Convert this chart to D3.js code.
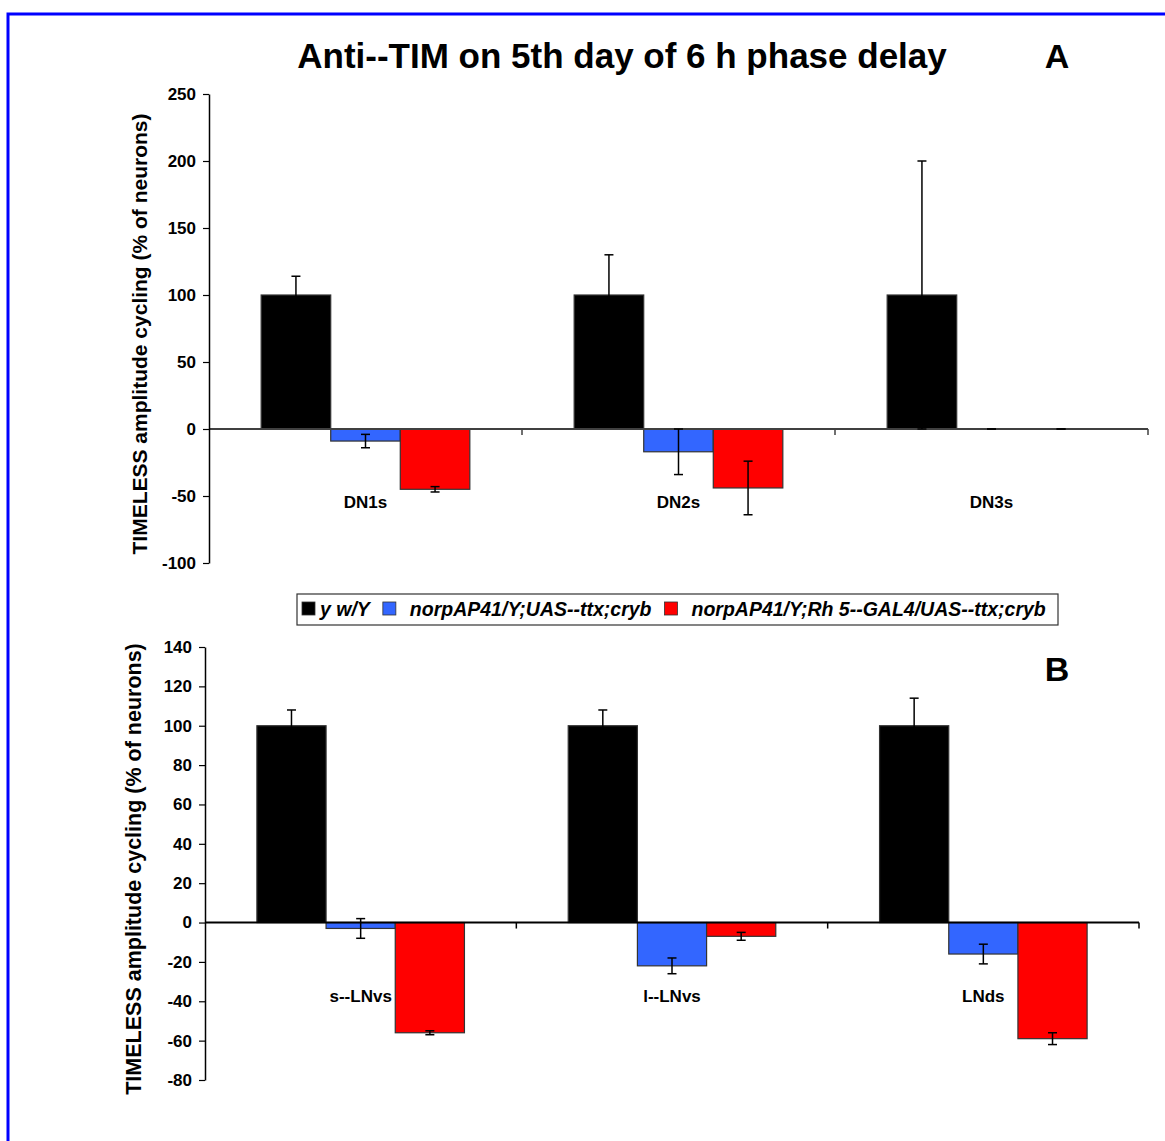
<!DOCTYPE html>
<html>
<head>
<meta charset="utf-8">
<script src="https://cdn.jsdelivr.net/npm/d3@7"></script>
<style>
  body { margin: 0; background: #fff; }
  svg { display: block; font-family: "Liberation Sans", Arial, sans-serif; }
</style>
</head>
<body>
<script>
(function() {

// ---- data ----
var series = ["y w/Y", "norpAP41/Y;UAS--ttx;cryb", "norpAP41/Y;Rh 5--GAL4/UAS--ttx;cryb"];
var seriesColors = ["#000000", "#3366ff", "#ff0000"];

var catsA = ["DN1s", "DN2s", "DN3s"];
var valuesA = [[100, -9, -45], [100, -17, -44], [100, 0, 0]];
var errorsA = [[14, 5, 2], [30, 17, 20], [100, 0, 0]];
var ticksA = [250, 200, 150, 100, 50, 0, -50, -100];

var catsB = ["s--LNvs", "l--LNvs", "LNds"];
var valuesB = [[100, -3, -56], [100, -22, -7], [100, -16, -59]];
var errorsB = [[8, 5, 1], [8, 4, 2], [14, 5, 3]];
var ticksB = [140, 120, 100, 80, 60, 40, 20, 0, -20, -40, -60, -80];

var yLabel = "TIMELESS amplitude cycling (% of neurons)";

var width = 1165, height = 1141;

var svg = d3.select("body").
  append("svg").
  attr("width", width).
  attr("height", height);

// blue frame, runs off the right and bottom edges
svg.append("rect").
  attr("x", 8).attr("y", 14).
  attr("width", width + 20).attr("height", height + 20).
  attr("fill", "none").
  attr("stroke", "#0000ff").
  attr("stroke-width", 3);

svg.append("text").
  attr("x", 622).attr("y", 68).
  attr("text-anchor", "middle").
  style("font-size", "35px").style("font-weight", "bold").
  text("Anti--TIM on 5th day of 6 h phase delay");

var drawPanel = function(p) {
  var y = d3.scaleLinear().domain(p.domain).range(p.yRange);
  var x0 = d3.scaleBand().domain(p.cats).range(p.xRange).padding(0);
  var x1 = d3.scaleBand().domain(d3.range(series.length)).
    range([0, x0.bandwidth()]).paddingInner(0).paddingOuter(0.75);

  var g = svg.append("g");

  var rows = [];
  p.cats.forEach(function(c, i) {
    p.values[i].forEach(function(v, j) {
      rows.push({ cat: c, s: j, v: v, e: p.errors[i][j] });
    });
  });

  g.selectAll("rect.bar").
    data(rows).
    enter().append("rect").
    attr("class", "bar").
    attr("x", function(d) { return x0(d.cat) + x1(d.s); }).
    attr("y", function(d) { return y(Math.max(0, d.v)); }).
    attr("width", x1.bandwidth()).
    attr("height", function(d) { return Math.abs(y(d.v) - y(0)); }).
    attr("fill", function(d) { return seriesColors[d.s]; }).
    attr("stroke", "#333").
    attr("stroke-width", 1.2);

  // zero line with category separators
  var z = y(0);
  g.append("line").
    attr("x1", p.xRange[0]).attr("x2", p.xRange[1]).
    attr("y1", z).attr("y2", z).
    attr("stroke", p.zeroColor).attr("stroke-width", 2);
  g.selectAll("line.sep").
    data(p.cats).
    enter().append("line").
    attr("class", "sep").
    attr("x1", function(c) { return x0(c) + x0.bandwidth(); }).
    attr("x2", function(c) { return x0(c) + x0.bandwidth(); }).
    attr("y1", z).attr("y2", z + 6).
    attr("stroke", p.zeroColor).attr("stroke-width", 1.5);

  // error bars
  var eb = g.selectAll("g.err").
    data(rows).
    enter().append("g").
    attr("class", "err").
    attr("transform", function(d) {
      return "translate(" + (x0(d.cat) + x1(d.s) + x1.bandwidth() / 2) + ",0)";
    });
  eb.append("line").
    attr("y1", function(d) { return y(d.v + d.e); }).
    attr("y2", function(d) { return y(d.v - d.e); }).
    attr("stroke", "#000").attr("stroke-width", 1.5);
  [1, -1].forEach(function(sgn) {
    eb.append("line").
      attr("x1", -4.5).attr("x2", 4.5).
      attr("y1", function(d) { return y(d.v + sgn * d.e); }).
      attr("y2", function(d) { return y(d.v + sgn * d.e); }).
      attr("stroke", "#000").attr("stroke-width", 1.5);
  });

  // y axis (plain hyphen for negatives, like the original)
  var ax = g.append("g").
    attr("transform", "translate(" + p.xRange[0] + ",0)").
    call(d3.axisLeft(y).tickValues(p.ticks).tickSize(6).tickSizeOuter(0).tickPadding(7).
      tickFormat(function(d) { return String(d); }));
  ax.select(".domain").attr("stroke", "#000").attr("stroke-width", 1.5);
  ax.selectAll(".tick line").attr("stroke", "#000").attr("stroke-width", 1.2);
  ax.selectAll(".tick text").
    attr("fill", "#000").
    style("font-size", "17px").style("font-weight", "bold").
    style("font-family", "'Liberation Sans', Arial, sans-serif");

  // category labels
  g.selectAll("text.cat").
    data(p.cats).
    enter().append("text").
    attr("class", "cat").
    attr("x", function(c) { return x0(c) + x0.bandwidth() / 2; }).
    attr("y", z + 79).
    attr("text-anchor", "middle").
    style("font-size", "17px").style("font-weight", "bold").
    text(function(c) { return c; });

  g.append("text").
    attr("transform", "translate(" + p.labelX + "," + p.labelY + ") rotate(-90)").
    attr("text-anchor", "middle").
    style("font-size", p.labelSize).style("font-weight", "bold").
    text(yLabel);

  g.append("text").
    attr("x", 1057).attr("y", p.letterY).
    attr("text-anchor", "middle").
    style("font-size", "34px").style("font-weight", "bold").
    text(p.letter);
};

drawPanel({
  cats: catsA, values: valuesA, errors: errorsA, ticks: ticksA,
  domain: [-100, 250], yRange: [563, 94], xRange: [209, 1148],
  zeroColor: "#404040", labelX: 147, labelY: 334, labelSize: "21px",
  letter: "A", letterY: 68
});

drawPanel({
  cats: catsB, values: valuesB, errors: errorsB, ticks: ticksB,
  domain: [-80, 140], yRange: [1080, 647], xRange: [205, 1139],
  zeroColor: "#000", labelX: 141, labelY: 869, labelSize: "21.5px",
  letter: "B", letterY: 681
});

// legend
var leg = svg.append("g");
leg.append("rect").
  attr("x", 297).attr("y", 594).
  attr("width", 761).attr("height", 31).
  attr("fill", "#fff").attr("stroke", "#333").attr("stroke-width", 1.2);

var lx = 302;
series.forEach(function(s, i) {
  leg.append("rect").
    attr("x", lx).attr("y", 602).
    attr("width", 13).attr("height", 13).
    attr("fill", seriesColors[i]).
    attr("stroke", "#333").attr("stroke-width", 0.8);
  var t = leg.append("text").
    attr("x", lx + (i === 0 ? 18 : 27)).attr("y", 616).
    style("font-size", "19.5px").style("font-weight", "bold").style("font-style", "italic").
    text(s);
  lx = lx + (i === 0 ? 18 : 27) + t.node().getComputedTextLength() + 13;
});

})();
</script>
</body>
</html>
